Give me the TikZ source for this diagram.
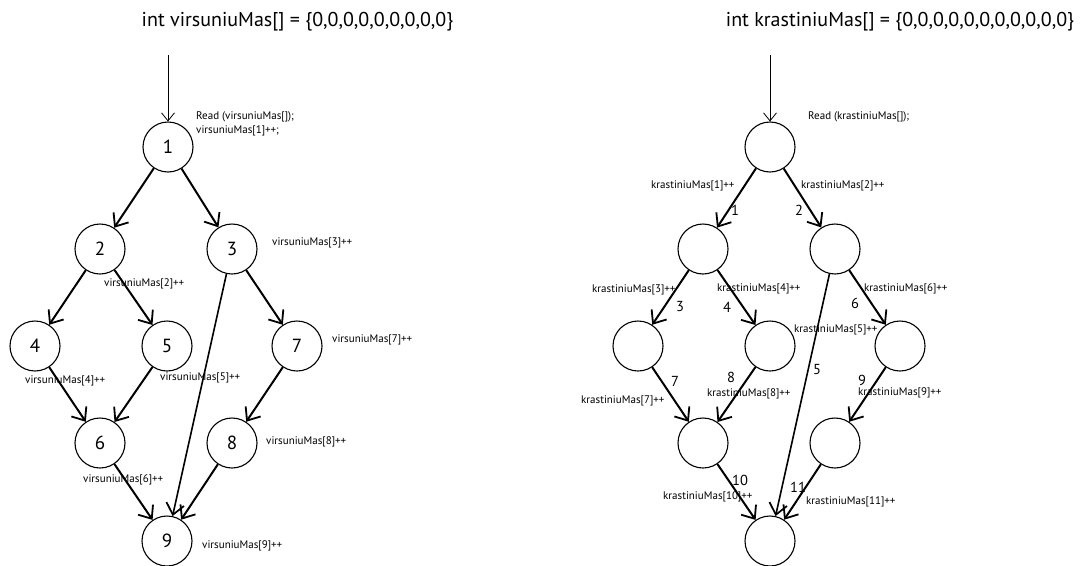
\documentclass[tikz,border=0pt]{standalone}
\usepackage{fontspec}
\setmainfont{PT Sans}
\usetikzlibrary{arrows.meta}
\begin{document}
\begin{tikzpicture}[x=1pt,y=-1pt,
  vertex/.style={circle,draw,line width=1.1pt,minimum size=50pt,inner sep=0pt,
    font=\fontsize{19}{19}\selectfont},
  flow/.style={line width=2pt,-{Straight Barb[length=11pt,width=18pt,line width=1.8pt]}},
  skip/.style={line width=1.6pt,-{Straight Barb[length=11pt,width=18pt,line width=1.7pt]}},
  entry/.style={line width=0.8pt,-{Straight Barb[length=8pt,width=13pt,line width=0.8pt]}},
  note/.style={anchor=west,inner sep=0pt,font=\fontsize{11}{12}\selectfont},
  count/.style={inner sep=0pt,font=\fontsize{14.5}{14.5}\selectfont},
  heading/.style={inner sep=0pt,font=\fontsize{20}{20}\selectfont}]
\useasboundingbox[fill=white] (0,0) rectangle (1081,565);

% ---------- vertex counting graph ----------
\node[heading] (titleL) at (297.5,22) {int virsuniuMas[] = \{0,0,0,0,0,0,0,0,0\}};
\coordinate (inL) at (168,55);
\node[vertex] (L1) at (168,147) {1};
\node[vertex] (L2) at (100,249) {2};
\node[vertex] (L3) at (232,249) {3};
\node[vertex] (L4) at (35,346) {4};
\node[vertex] (L5) at (167,346) {5};
\node[vertex] (L7) at (297,346) {7};
\node[vertex] (L6) at (100,443) {6};
\node[vertex] (L8) at (232,443) {8};
\node[vertex] (L9) at (167,541) {9};

\draw[entry] (inL) -- (L1);
\draw[flow] (L1) -- (L2);
\draw[flow] (L1) -- (L3);
\draw[flow] (L2) -- (L4);
\draw[flow] (L2) -- (L5);
\draw[flow] (L3) -- (L7);
\draw[skip] (L3) -- (L9);
\draw[flow] (L4) -- (L6);
\draw[flow] (L5) -- (L6);
\draw[flow] (L7) -- (L8);
\draw[flow] (L6) -- (L9);
\draw[flow] (L8) -- (L9);

\node[note] (rdL) at (196,117) {Read (virsuniuMas[]);};
\node[note] (v1) at (196,131) {virsuniuMas[1]++;};
\node[note] (v3) at (272,243) {virsuniuMas[3]++};
\node[note] (v2) at (104,284) {virsuniuMas[2]++};
\node[note] (v7) at (332,340) {virsuniuMas[7]++};
\node[note] (v4) at (25,381) {virsuniuMas[4]++};
\node[note] (v5) at (160,378) {virsuniuMas[5]++};
\node[note] (v8) at (266,442) {virsuniuMas[8]++};
\node[note] (v6) at (83,480) {virsuniuMas[6]++};
\node[note] (v9) at (202,546) {virsuniuMas[9]++};

% ---------- edge counting graph ----------
\node[heading] (titleR) at (900,22) {int krastiniuMas[] = \{0,0,0,0,0,0,0,0,0,0,0\}};
\coordinate (inR) at (770,55);
\node[vertex] (R1) at (770,147) {};
\node[vertex] (R2) at (703,249) {};
\node[vertex] (R3) at (835,249) {};
\node[vertex] (R4) at (638,346) {};
\node[vertex] (R5) at (770,346) {};
\node[vertex] (R6) at (900,346) {};
\node[vertex] (R7) at (703,443) {};
\node[vertex] (R8) at (835,443) {};
\node[vertex] (R9) at (770,541) {};

\draw[entry] (inR) -- (R1);
\draw[flow] (R1) -- (R2);
\draw[flow] (R1) -- (R3);
\draw[flow] (R2) -- (R4);
\draw[flow] (R2) -- (R5);
\draw[skip] (R3) -- (R9);
\draw[flow] (R3) -- (R6);
\draw[flow] (R4) -- (R7);
\draw[flow] (R5) -- (R7);
\draw[flow] (R6) -- (R8);
\draw[flow] (R7) -- (R9);
\draw[flow] (R8) -- (R9);

\node[note] (rdR) at (808,117) {Read (krastiniuMas[]);};
\node[note] (k1) at (651,186) {krastiniuMas[1]++};
\node[note] (k2) at (801,186) {krastiniuMas[2]++};
\node[note] (k3) at (592,290) {krastiniuMas[3]++};
\node[note] (k4) at (717,289) {krastiniuMas[4]++};
\node[note] (k6) at (864,289) {krastiniuMas[6]++};
\node[note] (k5) at (794,330) {krastiniuMas[5]++};
\node[note] (k7) at (581,401) {krastiniuMas[7]++};
\node[note] (k8) at (707,393.5) {krastiniuMas[8]++};
\node[note] (k9) at (858,393) {krastiniuMas[9]++};
\node[note] (k10) at (663,497) {krastiniuMas[10]++};
\node[note] (k11) at (806,502) {krastiniuMas[11]++};

\node[count] (n1) at (735,210) {1};
\node[count] (n2) at (799,210) {2};
\node[count] (n3) at (680,307) {3};
\node[count] (n4) at (727,307) {4};
\node[count] (n6) at (855,303) {6};
\node[count] (n5) at (817,370) {5};
\node[count] (n7) at (675,381) {7};
\node[count] (n8) at (731,377.5) {8};
\node[count] (n9) at (862,380) {9};
\node[count] (n10) at (740,480) {10};
\node[count] (n11) at (798,487) {11};
\end{tikzpicture}
\end{document}
